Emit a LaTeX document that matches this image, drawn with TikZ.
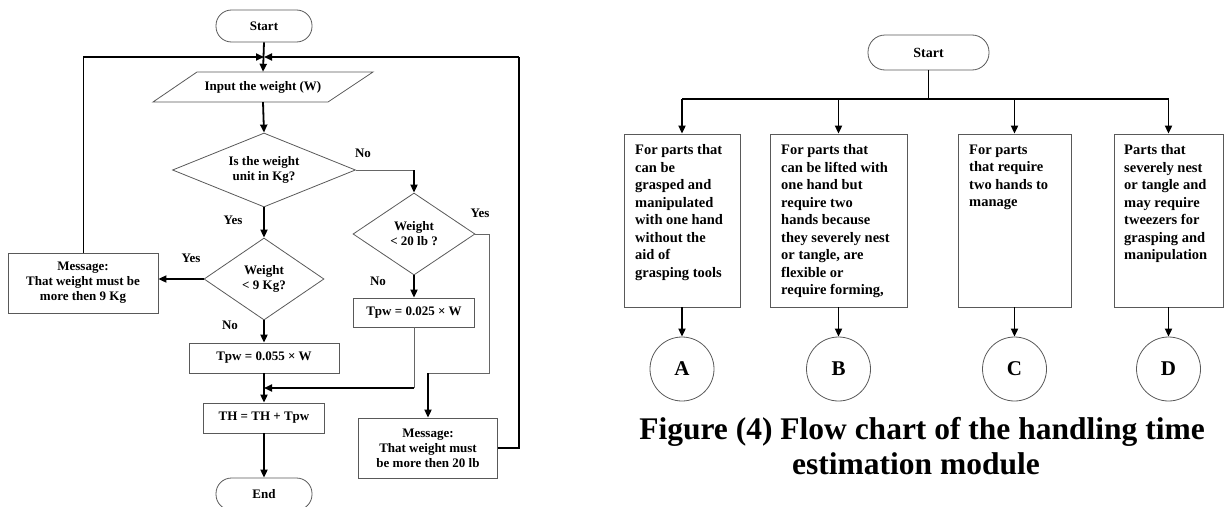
\documentclass[tikz,border=0pt]{standalone}
\usepackage{fontspec}
\setmainfont{Liberation Serif}
\usetikzlibrary{arrows.meta,shapes.geometric}
\begin{document}
\begin{tikzpicture}[x=1pt,y=-1pt,
  shp/.style={draw=black!65, line width=0.8pt},
  txt/.style={font=\bfseries\fontsize{13}{15}\selectfont, align=center, inner sep=0pt},
  term/.style={shp, txt, rounded corners=15.5pt, minimum width=96pt, minimum height=32pt},
  dia/.style={shp, txt, diamond, aspect=1.5},
  box/.style={shp, txt},
  lbl/.style={txt},
  ar/.style={-{Triangle[length=8pt,width=7pt]}, line width=1.8pt},
  thn/.style={line width=0.9pt},
  gry/.style={line width=0.9pt, draw=black!60},
  rtxt/.style={font=\bfseries\fontsize{14.5}{17.5}\selectfont, align=left, inner sep=0pt, anchor=north west},
  rbox/.style={shp, minimum height=173pt, inner sep=0pt},
  circ/.style={shp, circle, minimum size=64pt, inner sep=0pt, font=\bfseries\fontsize{21}{24}\selectfont}
]
\useasboundingbox (0,0) rectangle (1225,506);
\clip (0,0) rectangle (1225,506);

% ---------------- left flow chart ----------------
\node[term] (start) at (264,26) {Start};
\draw[shp] (153,102) -- (197,72) -- (373,72) -- (328,102) -- cycle;
\node[txt, minimum width=176pt, minimum height=30pt] (input) at (263,87) {Input the weight (W)};
\node[dia, aspect=2.47, minimum width=183pt, minimum height=74pt] (d1) at (264,170) {Is the weight\\unit in Kg?};
\node[dia, minimum width=122pt, minimum height=82pt] (d2) at (414,234) {Weight\\< 20 lb ?};
\node[dia, minimum width=120pt, minimum height=82pt] (d3) at (264,279) {Weight\\< 9 Kg?};
\node[box, minimum width=121pt, minimum height=29pt] (b025) at (414,312.5) {Tpw = 0.025 × W};
\node[box, minimum width=150pt, minimum height=30pt] (b055) at (264,358) {Tpw = 0.055 × W};
\node[box, minimum width=121pt, minimum height=30pt] (th) at (264,418) {TH = TH + Tpw};
\node[term] (end) at (264,494) {End};
\node[box, minimum width=150pt, minimum height=60pt] (msg9) at (83,283) {Message:\\That weight must be\\more then 9 Kg};
\node[box, minimum width=139pt, minimum height=60pt] (msg20) at (428,448) {Message:\\That weight must\\be more then 20 lb};

\node[lbl] (lno1) at (363,153) {No};
\node[lbl] (lyes1) at (233,220) {Yes};
\node[lbl] (lyes2) at (191,258) {Yes};
\node[lbl] (lno2) at (230,325) {No};
\node[lbl] (lyes3) at (480,213) {Yes};
\node[lbl] (lno3) at (378,281) {No};

\coordinate (J) at (264,57);
\coordinate (LT) at (83,57);
\coordinate (RT) at (519,57);
\coordinate (RB) at (519,448);
\coordinate (Y1) at (489,234);
\coordinate (Y2) at (489,373);
\coordinate (M1) at (414,388);

\draw[ar] (start.south) -- (input.north);
\draw[thn] (msg9.north) -- (LT);
\draw[ar] (LT) -- (J);
\draw[line width=1.3pt] (msg20.east) -- (RB) -- (RT);
\draw[ar] (RT) -- (J);
\draw[ar] (input.south) -- (d1.north);
\draw[gry] (d1.east) -- (d2.north |- d1.east);
\draw[ar] (d2.north |- d1.east) -- (d2.north);
\draw[ar] (d1.south) -- (d3.north);
\draw[ar] (d3.west) -- (d3.west -| msg9.east);
\draw[ar] (d3.south) -- (b055.north);
\draw[ar] (b055.south) -- (th.north);
\draw[ar] (th.south) -- (end.north);
\draw[ar] (d2.south) -- (b025.north);
\draw[gry] (b025.south) -- (M1);
\draw[ar] (M1) -- (th.north |- M1);
\draw[gry] (d2.east) -- (Y1) -- (Y2) -- (msg20.north |- Y2);
\draw[ar] (msg20.north |- Y2) -- (msg20.north);

% ---------------- right chart ----------------
\node[shp, txt, font=\bfseries\fontsize{14}{16}\selectfont, rounded corners=17pt, minimum width=121pt, minimum height=35pt] (startR) at (928.5,52.5) {Start};
\node[rbox, minimum width=116pt] (bA) at (682,220.5) {};
\node[rbox, minimum width=137pt] (bB) at (838.5,220.5) {};
\node[rbox, minimum width=113pt] (bC) at (1014.5,220.5) {};
\node[rbox, minimum width=109pt] (bD) at (1168.5,220.5) {};
\node[rtxt] (tA) at (635,144.5) {For parts that\\can be\\grasped and\\manipulated\\with one hand\\without the\\aid of\\grasping tools};
\node[rtxt] (tB) at (781,144.5) {For parts that\\can be lifted with\\one hand but\\require two\\hands because\\they severely nest\\or tangle, are\\flexible or\\require forming,};
\node[rtxt] (tC) at (969,144.5) {For parts\\that require\\two hands to\\manage};
\node[rtxt] (tD) at (1124,144.5) {Parts that\\severely nest\\or tangle and\\may require\\tweezers for\\grasping and\\manipulation};
\node[circ] (cA) at (682,369) {A};
\node[circ] (cB) at (838.5,369) {B};
\node[circ] (cC) at (1014.5,369) {C};
\node[circ] (cD) at (1168.5,369) {D};

\coordinate (H0) at (928.5,99);
\draw[thn] (startR.south) -- (H0);
\draw[line width=1.2pt] (bA.north |- H0) -- (bD.north |- H0);
\foreach \b in {bA,bB,bC,bD} {\draw[ar] (\b.north |- H0) -- (\b.north);}
\draw[ar] (bA.south) -- (cA.north);
\draw[ar] (bB.south) -- (cB.north);
\draw[ar] (bC.south) -- (cC.north);
\draw[ar] (bD.south) -- (cD.north);

\node[font=\bfseries\fontsize{31.5}{35}\selectfont, inner sep=0pt, anchor=base] (cap1) at (922,439) {Figure (4) Flow chart of the handling time};
\node[font=\bfseries\fontsize{31.5}{35}\selectfont, inner sep=0pt, anchor=base] (cap2) at (916,474) {estimation module};
\end{tikzpicture}
\end{document}
